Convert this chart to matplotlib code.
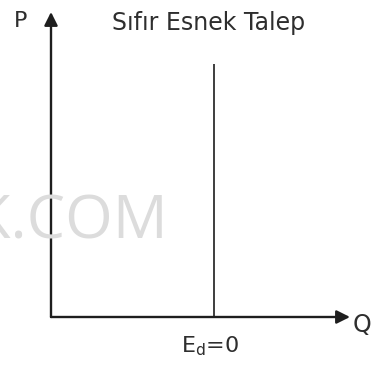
import matplotlib
matplotlib.use("Agg")
import matplotlib.pyplot as plt

# Perfectly inelastic demand: quantity fixed regardless of price
title = "Sıfır Esnek Talep"
x_label = "Q"
y_label = "P"
demand_label = "$\\mathregular{E_d}$=0"
q_fixed = 5.0          # quantity demanded
p_range = [0.0, 8.3]   # price span of the demand curve
x_max = 9.2
y_max = 10.0

W, H = 371, 365
fig = plt.figure(figsize=(W / 100, H / 100), dpi=100)
fig.patch.set_facecolor("white")

# background watermark
fig.text(168 / W, 1 - 222 / H, "K.COM", ha="right", va="center",
         fontsize=44, color="#dcdcdc", family=["Open Sans", "DejaVu Sans"],
         zorder=0)

ax = fig.add_axes([51 / W, (H - 317) / H, (350 - 51) / W, (317 - 12) / H])
ax.set_xlim(0, x_max)
ax.set_ylim(0, y_max)
ax.axis("off")
ax.patch.set_alpha(0)

arrow = dict(arrowstyle="-|>", color="#1e1e1e", lw=1.7,
             mutation_scale=20, shrinkA=0, shrinkB=0)
ax.annotate("", xy=(x_max, 0), xytext=(0, 0), arrowprops=arrow,
            annotation_clip=False)
ax.annotate("", xy=(0, y_max), xytext=(0, 0), arrowprops=arrow,
            annotation_clip=False)

# vertical demand curve
ax.plot([q_fixed, q_fixed], p_range, color="#1e1e1e", lw=1.2,
        solid_capstyle="butt")

txt_color = "#2e2e2e"
ax.text(q_fixed - 0.1, -0.95, demand_label, ha="center", va="center",
        fontsize=16, color=txt_color)
fig.text(362 / W, 1 - 325 / H, x_label, ha="center", va="center",
         fontsize=17, color=txt_color)
fig.text(21 / W, 1 - 21 / H, y_label, ha="center", va="center",
         fontsize=16, color=txt_color)
fig.text(209 / W, 1 - 23 / H, title, ha="center", va="center",
         fontsize=17, color=txt_color)

fig.savefig("out.png", dpi=100, facecolor="white")
